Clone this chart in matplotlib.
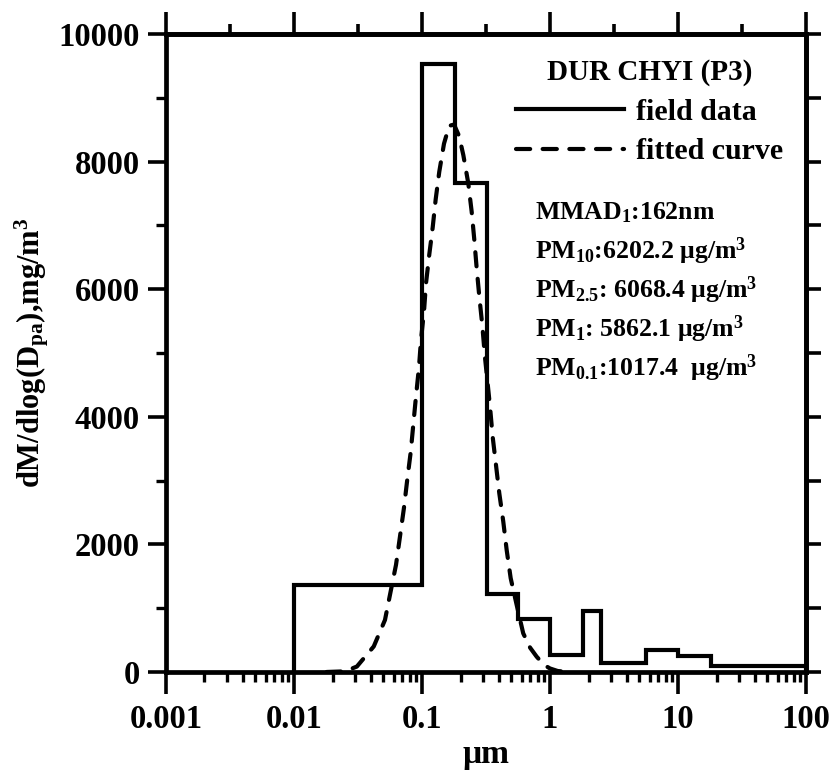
import numpy as np
import matplotlib
matplotlib.use("Agg")
import matplotlib.pyplot as plt
from matplotlib.ticker import FixedLocator, MultipleLocator, NullFormatter, FixedFormatter
from matplotlib.lines import Line2D

plt.rcParams['font.family'] = ['Liberation Serif', 'DejaVu Serif']
plt.rcParams['font.weight'] = 'bold'
plt.rcParams['mathtext.fontset'] = 'custom'
plt.rcParams['mathtext.rm'] = 'Liberation Serif:bold'
plt.rcParams['mathtext.it'] = 'Liberation Serif:bold'
plt.rcParams['mathtext.bf'] = 'Liberation Serif:bold'
plt.rcParams['mathtext.default'] = 'rm'

# field data (MOUDI stage cut sizes, um) and dM/dlogDp levels
bin_edges = [0.01, 0.1, 0.18, 0.32, 0.56, 1.0, 1.8, 2.5, 5.6, 10, 18, 100]
field_levels = [1360, 9530, 7670, 1220, 830, 270, 950, 140, 340, 250, 100]

# fitted curve
fit_x = [0.018, 0.025, 0.031, 0.042, 0.0514, 0.0569, 0.0627, 0.0673, 0.0723,
         0.0767, 0.0817, 0.0855, 0.0897, 0.0948, 0.0982, 0.1038, 0.1075, 0.114,
         0.1213, 0.128, 0.1365, 0.1486, 0.163, 0.178, 0.195, 0.2105, 0.23,
         0.2445, 0.2565, 0.2675, 0.2806, 0.2958, 0.31, 0.34, 0.3565, 0.3786,
         0.4019, 0.4315, 0.459, 0.4932, 0.5495, 0.618, 0.7, 0.787, 0.9, 1.0,
         1.15, 1.4]
fit_y = [0, 10, 85, 400, 815, 1260, 1680, 2120, 2570,
         3010, 3450, 3870, 4310, 4780, 5200, 5660, 6090, 6540,
         6970, 7410, 7840, 8280, 8560, 8580, 8400, 8100, 7660,
         7215, 6770, 6330, 5880, 5440, 4950, 4160, 3690, 3245,
         2800, 2360, 1910, 1470, 1050, 606, 380, 240, 110, 55,
         15, 0]

x_ticks = [0.001, 0.01, 0.1, 1, 10, 100]
x_tick_labels = ['0.001', '0.01', '0.1', '1', '10', '100']
y_ticks = [0, 2000, 4000, 6000, 8000, 10000]

stats_lines = ['MMAD$_1$:162nm',
               'PM$_{10}$:6202.2 μg/m$^3$',
               'PM$_{2.5}$: 6068.4 μg/m$^3$',
               'PM$_1$: 5862.1 μg/m$^3$',
               'PM$_{0.1}$:1017.4  μg/m$^3$']

fig = plt.figure(figsize=(8.34, 7.81), dpi=100)
ax = fig.add_axes([0.199, 0.1396, 0.7674, 0.8169])

lw = 3.0
dash = (0, (3.4, 3.0))
ax.stairs(field_levels, bin_edges, baseline=0, color='black', linewidth=lw,
          label='field data')
ax.plot(fit_x, fit_y, color='black', linewidth=lw, linestyle=dash,
        dash_capstyle='round', label='fitted curve')

ax.set_xscale('log')
ax.set_xlim(0.001, 100)
ax.set_ylim(0, 10000)

for s in ax.spines.values():
    s.set_linewidth(3.4)

ax.xaxis.set_major_locator(FixedLocator(x_ticks))
ax.xaxis.set_major_formatter(FixedFormatter(x_tick_labels))
ax.xaxis.set_minor_locator(FixedLocator([m * 10.0 ** k for k in range(-3, 2) for m in range(2, 10)]))
ax.xaxis.set_minor_formatter(NullFormatter())
ax.yaxis.set_major_locator(FixedLocator(y_ticks))
ax.yaxis.set_minor_locator(MultipleLocator(1000))

ax.tick_params(which='major', direction='out', width=2.6, labelsize=23.5, pad=6)
ax.tick_params(axis='x', which='major', length=16, pad=7)
ax.tick_params(axis='x', which='minor', direction='out', length=7, width=2.4)
ax.tick_params(axis='y', which='major', length=13)
ax.tick_params(axis='y', which='minor', direction='out', length=7, width=2.4)

# top axis: decades and half decades
top = ax.secondary_xaxis('top')
top.set_xscale('log')
top.xaxis.set_major_locator(FixedLocator(x_ticks))
top.xaxis.set_minor_locator(FixedLocator([10.0 ** (k + 0.5) for k in range(-3, 2)]))
top.xaxis.set_major_formatter(NullFormatter())
top.xaxis.set_minor_formatter(NullFormatter())
top.tick_params(which='major', direction='out', length=16, width=2.6)
top.tick_params(which='minor', direction='out', length=7, width=2.6)
top.spines['top'].set_linewidth(3.4)

# right axis: every 1000
right = ax.secondary_yaxis('right')
right.yaxis.set_major_locator(MultipleLocator(1000))
right.yaxis.set_major_formatter(NullFormatter())
right.tick_params(which='major', direction='out', length=11, width=2.6)
right.spines['right'].set_linewidth(3.4)

for lab in ax.get_xticklabels() + ax.get_yticklabels():
    lab.set_fontweight('bold')

ax.set_xlabel('μm', fontsize=24, fontweight='bold')
ax.xaxis.set_label_coords(0.5, -0.105)
ax.set_ylabel('dM/dlog(D$_{pa}$),mg/m$^3$', fontsize=22, fontweight='bold')
ax.yaxis.set_label_coords(-0.18, 0.5)

handles = [Line2D([], [], color='black', linewidth=lw),
           Line2D([], [], color='black', linewidth=lw, linestyle=dash,
                  dash_capstyle='round')]
leg = ax.legend(handles, ['field data', 'fitted curve'], loc='upper right',
                bbox_to_anchor=(1.006, 1.003), frameon=False,
                title='DUR CHYI (P3)', handlelength=3.6, handletextpad=0.4,
                labelspacing=0.42, prop={'size': 21.5, 'weight': 'bold'})
leg.get_title().set_fontsize(21)
leg.get_title().set_fontweight('bold')

stats_y = [0.72, 0.659, 0.598, 0.537, 0.476]
for txt, yy in zip(stats_lines, stats_y):
    ax.text(0.577, yy, txt, transform=ax.transAxes, fontsize=18.5,
            fontweight='bold', va='center', ha='left')

fig.savefig('out.png', dpi=100)
